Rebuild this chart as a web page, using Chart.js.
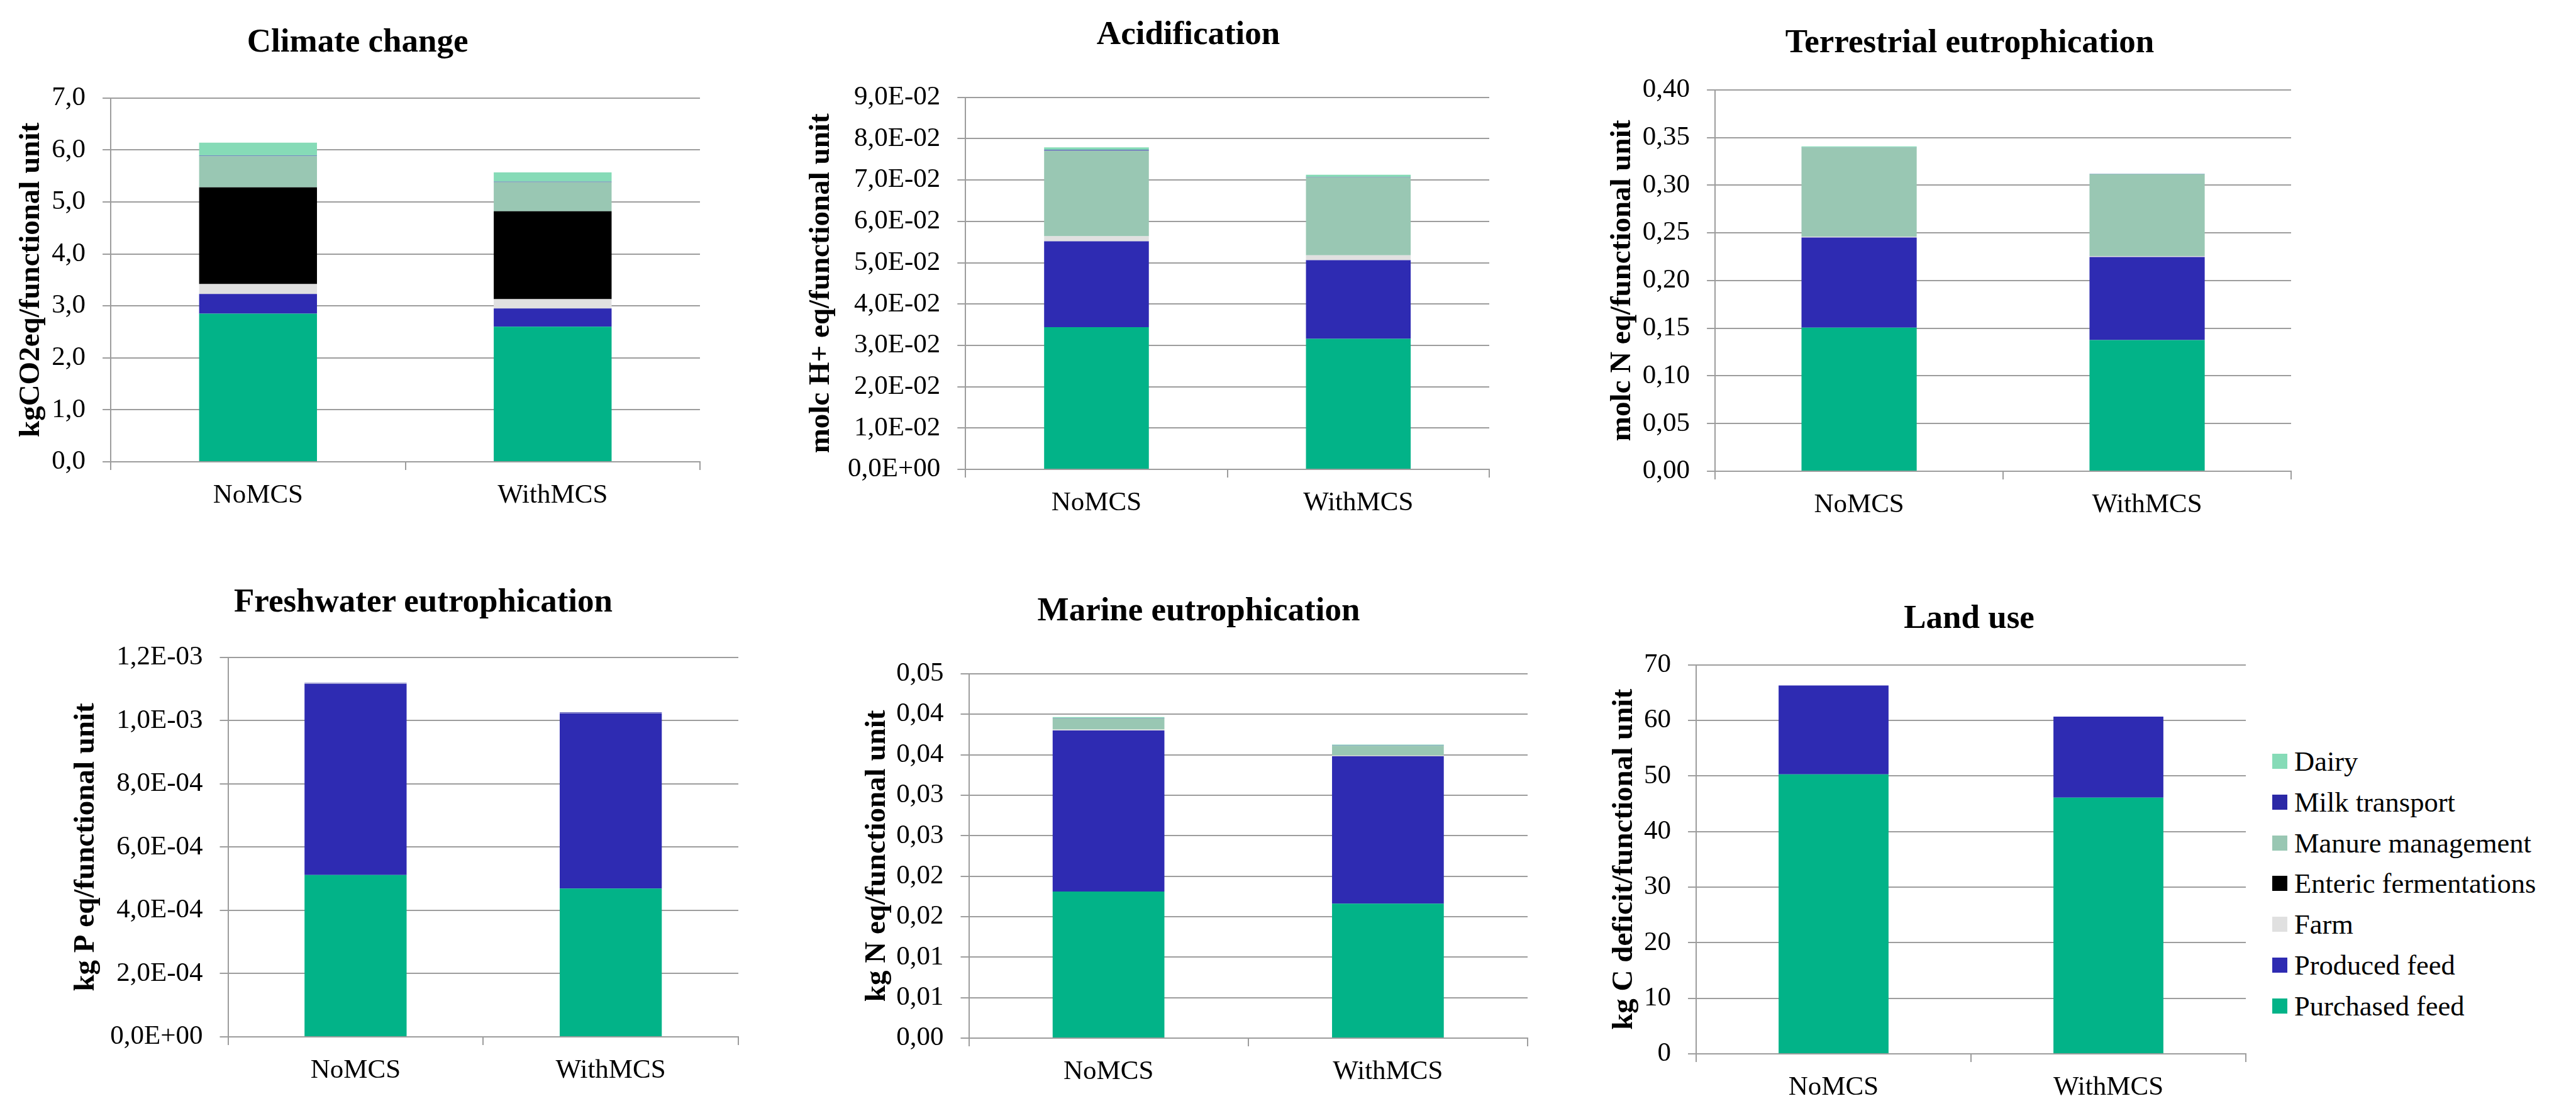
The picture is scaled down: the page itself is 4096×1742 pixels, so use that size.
<!DOCTYPE html>
<html>
<head>
<meta charset="utf-8">
<script src="https://cdn.jsdelivr.net/npm/chart.js@4.4.1/dist/chart.umd.min.js"></script>
<style>
  html, body { margin: 0; padding: 0; background: #fff; overflow: hidden; width: 4096px; height: 1742px; }
  canvas { position: absolute; }
  .title { position: absolute; font: bold 53px "Liberation Serif", serif; color: #000; white-space: nowrap;
           line-height: 1; transform: translate(-50%, -50%); }
  .item { position: absolute; display: flex; align-items: center; white-space: nowrap; line-height: 1;
          font: 44.5px "Liberation Serif", serif; color: #000; transform: translateY(-50%); }
  .sw { width: 24px; height: 24px; margin-right: 11px; flex: none; }
</style>
</head>
<body>
<script>
// ---- data ----
const categories = ['NoMCS', 'WithMCS'];
// stacking order, bottom to top
const seriesNames  = ['Purchased feed', 'Produced feed', 'Farm', 'Enteric fermentations', 'Manure management', 'Milk transport', 'Dairy'];
const seriesColors = ['#02b388', '#2e2bb2', '#e0e0e0', '#000000', '#99c7b3', '#2b28a6', '#86dbb7'];

const panelTitles = ['Climate change', 'Acidification', 'Terrestrial eutrophication',
                     'Freshwater eutrophication', 'Marine eutrophication', 'Land use'];
const axisTitles  = ['kgCO2eq/functional unit', 'molc H+ eq/functional unit', 'molc N eq/functional unit',
                     'kg P eq/functional unit', 'kg N eq/functional unit', 'kg C deficit/functional unit'];

// contributions per stage, same order as seriesNames
const climateNoMCS       = [2.85, 0.38, 0.19, 1.86, 0.60, 0.01, 0.25];
const climateWithMCS     = [2.60, 0.35, 0.18, 1.69, 0.56, 0.01, 0.18];
const acidNoMCS          = [0.0344, 0.0208, 0.0012, 0, 0.0207, 0.0002, 0.0006];
const acidWithMCS        = [0.0316, 0.0190, 0.0012, 0, 0.0189, 0.0001, 0.0005];
const terrestrialNoMCS   = [0.1506, 0.0946, 0.0010, 0, 0.0935, 0.0002, 0.0008];
const terrestrialWithMCS = [0.1376, 0.0870, 0.0010, 0, 0.0858, 0.0002, 0.0004];
const freshwaterNoMCS    = [5.12e-4, 6.04e-4, 0.01e-4, 0, 0, 0.02e-4, 0];
const freshwaterWithMCS  = [4.69e-4, 5.54e-4, 0.01e-4, 0, 0, 0.02e-4, 0];
const marineNoMCS        = [0.0181, 0.0199, 0.0001, 0, 0.0014, 0.00005, 0.0001];
const marineWithMCS      = [0.0166, 0.0182, 0.0001, 0, 0.0012, 0.00005, 0.0001];
const landNoMCS          = [50.3, 16.0, 0, 0, 0, 0, 0];
const landWithMCS        = [46.1, 14.6, 0, 0, 0, 0, 0];

// axis ticks
const climateTickValues = [0, 1, 2, 3, 4, 5, 6, 7];
const climateTickLabels = ['0,0', '1,0', '2,0', '3,0', '4,0', '5,0', '6,0', '7,0'];
const acidTickValues = [0, 0.01, 0.02, 0.03, 0.04, 0.05, 0.06, 0.07, 0.08, 0.09];
const acidTickLabels = ['0,0E+00', '1,0E-02', '2,0E-02', '3,0E-02', '4,0E-02', '5,0E-02', '6,0E-02', '7,0E-02', '8,0E-02', '9,0E-02'];
const terrestrialTickValues = [0, 0.05, 0.10, 0.15, 0.20, 0.25, 0.30, 0.35, 0.40];
const terrestrialTickLabels = ['0,00', '0,05', '0,10', '0,15', '0,20', '0,25', '0,30', '0,35', '0,40'];
const freshwaterTickValues = [0, 2e-4, 4e-4, 6e-4, 8e-4, 1e-3, 1.2e-3];
const freshwaterTickLabels = ['0,0E+00', '2,0E-04', '4,0E-04', '6,0E-04', '8,0E-04', '1,0E-03', '1,2E-03'];
const marineTickValues = [0, 0.005, 0.010, 0.015, 0.020, 0.025, 0.030, 0.035, 0.040, 0.045];
const marineTickLabels = ['0,00', '0,01', '0,01', '0,02', '0,02', '0,03', '0,03', '0,04', '0,04', '0,05'];
const landTickValues = [0, 10, 20, 30, 40, 50, 60, 70];
const landTickLabels = ['0', '10', '20', '30', '40', '50', '60', '70'];

// ---- layout & styling ----
const FONT = '"Liberation Serif", serif';
const GRID = '#9d9d9d';
const Y_TITLE_SIZE = 47;
const X_AXIS_H = 120;

const panels = [
  { no: climateNoMCS, with: climateWithMCS, tv: climateTickValues, tl: climateTickLabels,
    axisX: 176.1, right: 1113.3, top: 148.0, bottom: 734.4, yTitleX: 50, titleX: 568.7, titleY: 64.3 },
  { no: acidNoMCS, with: acidWithMCS, tv: acidTickValues, tl: acidTickLabels,
    axisX: 1535.3, right: 2368.0, top: 146.9, bottom: 746.0, yTitleX: 1306.6, titleX: 1889.6, titleY: 52.3 },
  { no: terrestrialNoMCS, with: terrestrialWithMCS, tv: terrestrialTickValues, tl: terrestrialTickLabels,
    axisX: 2727.1, right: 3642.7, top: 134.6, bottom: 749.1, yTitleX: 2580.4, titleX: 3132, titleY: 65.2 },
  { no: freshwaterNoMCS, with: freshwaterWithMCS, tv: freshwaterTickValues, tl: freshwaterTickLabels,
    axisX: 362.5, right: 1173.7, top: 1037.3, bottom: 1648.3, yTitleX: 137.2, titleX: 673, titleY: 954 },
  { no: marineNoMCS, with: marineWithMCS, tv: marineTickValues, tl: marineTickLabels,
    axisX: 1540.5, right: 2429.3, top: 1063.2, bottom: 1650.1, yTitleX: 1395.5, titleX: 1906, titleY: 968 },
  { no: landNoMCS, with: landWithMCS, tv: landTickValues, tl: landTickLabels,
    axisX: 2697.0, right: 3571.1, top: 1049.4, bottom: 1675.1, yTitleX: 2583, titleX: 3131, titleY: 979.5 }
];

function addTitle(text, x, y) {
  const d = document.createElement('div');
  d.className = 'title';
  d.textContent = text;
  d.style.left = x + 'px';
  d.style.top = y + 'px';
  document.body.appendChild(d);
}

function makePanel(p, idx) {
  const lh = Y_TITLE_SIZE * 1.2;
  const left = Math.round(p.yTitleX - lh / 2);
  const top = Math.round(p.top - 45);
  const padTop = p.top - top;
  const w = Math.round(p.right - left + 4);
  const h = Math.round(p.bottom - top) + X_AXIS_H;
  const yW = p.axisX - left;

  const cv = document.createElement('canvas');
  cv.width = w; cv.height = h;
  cv.style.left = left + 'px'; cv.style.top = top + 'px';
  cv.style.width = w + 'px'; cv.style.height = h + 'px';
  document.body.appendChild(cv);

  const datasets = seriesNames.map((name, i) => ({
    label: name,
    data: [p.no[i], p.with[i]],
    backgroundColor: seriesColors[i],
    borderWidth: 0,
    barPercentage: 0.4,
    categoryPercentage: 1.0
  }));

  new Chart(cv, {
    type: 'bar',
    data: { labels: categories, datasets },
    options: {
      responsive: false,
      animation: false,
      devicePixelRatio: 1,
      layout: { padding: { top: padTop, right: 4, bottom: 0, left: 0 } },
      plugins: { legend: { display: false }, tooltip: { enabled: false }, title: { display: false } },
      scales: {
        x: {
          stacked: true,
          offset: true,
          grid: { display: true, drawOnChartArea: false, drawTicks: true, tickLength: 13,
                  color: GRID, lineWidth: 2, offset: true },
          border: { display: true, color: GRID, width: 2 },
          ticks: { font: { family: FONT, size: 43 }, color: '#000', padding: 15, maxRotation: 0, autoSkip: false },
          afterFit: s => { s.height = X_AXIS_H; }
        },
        y: {
          stacked: true,
          min: p.tv[0],
          max: p.tv[p.tv.length - 1],
          grid: { color: GRID, lineWidth: 2, tickLength: 13, drawTicks: true },
          border: { display: true, color: GRID, width: 2 },
          ticks: { font: { family: FONT, size: 43 }, color: '#000', padding: 27, autoSkip: false,
                   callback: (v, i) => p.tl[i] },
          afterBuildTicks: s => { s.ticks = p.tv.map(v => ({ value: v })); },
          afterFit: s => { s.width = yW; },
          title: { display: true, text: axisTitles[idx], color: '#000', padding: 0,
                   font: { family: FONT, size: Y_TITLE_SIZE, weight: 'bold', lineHeight: 1.2 } }
        }
      }
    }
  });

  addTitle(panelTitles[idx], p.titleX, p.titleY);
}

panels.forEach(makePanel);

// legend, listed top-down from the last stacked series
const legendLeft = 3613, legendTop = 1209.7, legendStep = 64.9;
seriesNames.slice().reverse().forEach((name, k) => {
  const color = seriesColors[seriesNames.length - 1 - k];
  const item = document.createElement('div');
  item.className = 'item';
  item.style.left = legendLeft + 'px';
  item.style.top = (legendTop + k * legendStep) + 'px';
  const sw = document.createElement('span');
  sw.className = 'sw';
  sw.style.background = color;
  const tx = document.createElement('span');
  tx.textContent = name;
  item.appendChild(sw);
  item.appendChild(tx);
  document.body.appendChild(item);
});
</script>
</body>
</html>
